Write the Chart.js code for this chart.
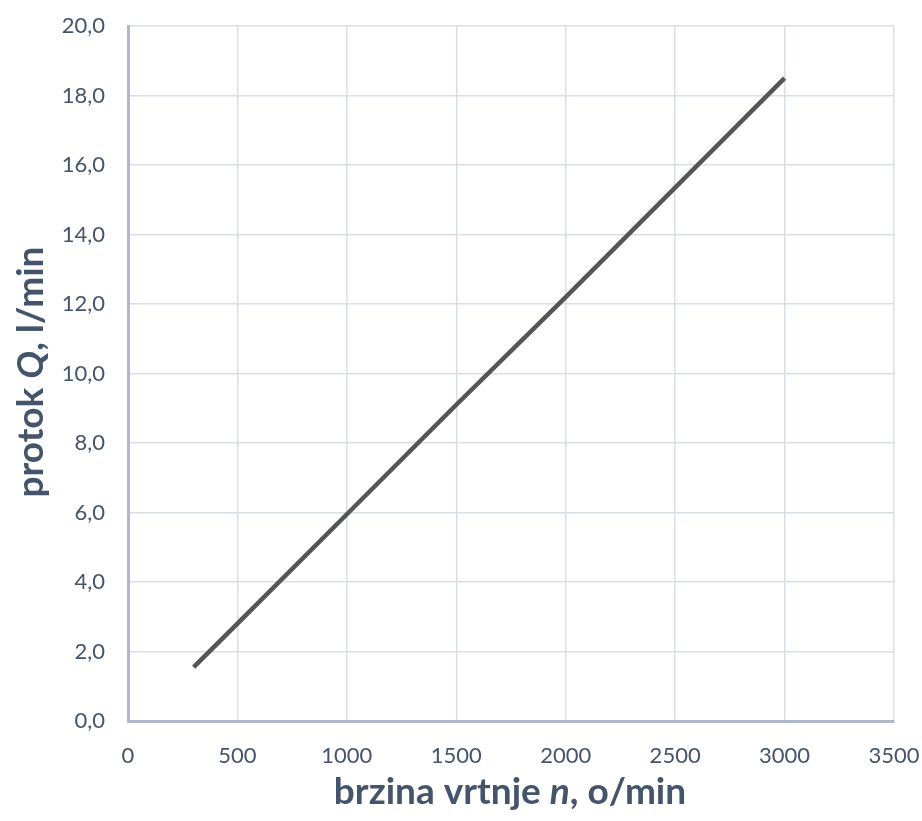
<!DOCTYPE html>
<html>
<head>
<meta charset="utf-8">
<script src="https://cdn.jsdelivr.net/npm/chart.js@4"></script>
<style>
  body { margin: 0; background: #fff; }
  #wrap { width: 922px; height: 821px; }
</style>
</head>
<body>
<div id="wrap"><canvas id="flowChart" width="922" height="821"></canvas></div>
<script>
var speeds = [300, 500, 1000, 1500, 2000, 2500, 3000];
var flows = [1.55, 2.8, 5.95, 9.1, 12.2, 15.35, 18.5];

var xTitle = ['brzina vrtnje ', 'n', ', o/min'];
var yTitle = ['protok ', 'Q', ', l/min'];

var textColor = '#44546a';

function drawMixed(ctx, parts, cx, cy) {
    var fonts = ['bold 37px Lato', 'italic bold 37px Lato', 'bold 37px Lato'];
    var widths = parts.map(function (p, i) {
        ctx.font = fonts[i];
        return ctx.measureText(p).width;
    });
    var total = widths.reduce(function (a, b) { return a + b; }, 0);
    var x = cx - total / 2;
    ctx.textBaseline = 'middle';
    ctx.textAlign = 'left';
    ctx.fillStyle = textColor;
    parts.forEach(function (p, i) {
        ctx.font = fonts[i];
        ctx.fillText(p, x, cy);
        x += widths[i];
    });
}

var axisTitles = {
    id: 'axisTitles',
    afterDraw: function (chart) {
        var ctx = chart.ctx;
        ctx.save();
        drawMixed(ctx, xTitle, 510, 792);
        ctx.translate(31, 372);
        ctx.rotate(-Math.PI / 2);
        drawMixed(ctx, yTitle, 0, 0);
        ctx.restore();
    }
};

var points = speeds.map(function (s, i) { return { x: s, y: flows[i] }; });

var ctx = document.getElementById('flowChart').getContext('2d');
var chart = new Chart(ctx, {
    type: 'scatter',
    data: {
        datasets: [{
            data: points,
            showLine: true,
            borderColor: '#555555',
            backgroundColor: '#555555',
            borderWidth: 4.5,
            pointRadius: 0,
            tension: 0
        }]
    },
    options: {
        responsive: false,
        animation: false,
        layout: { padding: { top: 26, right: 28, left: 0, bottom: 0 } },
        plugins: {
            legend: { display: false },
            tooltip: { enabled: false }
        },
        scales: {
            x: {
                type: 'linear',
                min: 0,
                max: 3500,
                afterFit: function (scale) {
                    scale.height = 100;
                    scale.paddingLeft = 0;
                    scale.paddingRight = 0;
                },
                grid: { color: '#d9dee7', lineWidth: 1.5, drawTicks: false },
                border: { color: '#adb9ca', width: 3 },
                ticks: {
                    stepSize: 500,
                    padding: 22,
                    color: textColor,
                    font: { family: 'Lato', size: 22 },
                    callback: function (v) { return String(v); }
                }
            },
            y: {
                min: 0,
                max: 20,
                afterFit: function (scale) {
                    scale.width = 128;
                    scale.paddingTop = 0;
                    scale.paddingBottom = 0;
                },
                grid: { color: '#d9dee7', lineWidth: 1.5, drawTicks: false },
                border: { color: '#adb9ca', width: 3 },
                ticks: {
                    stepSize: 2,
                    padding: 23,
                    color: textColor,
                    font: { family: 'Lato', size: 22 },
                    callback: function (v) { return v.toFixed(1).replace('.', ','); }
                }
            }
        }
    },
    plugins: [axisTitles]
});
</script>
</body>
</html>
